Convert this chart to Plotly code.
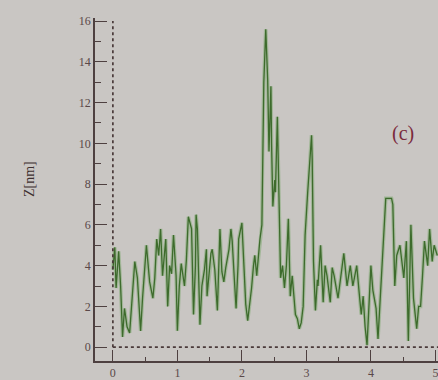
import plotly.graph_objects as go

# Profile position (x axis) and height Z [nm]
x_pos = [0.00, 0.03, 0.05, 0.09, 0.12, 0.15, 0.18, 0.22, 0.26, 0.29, 0.34, 0.38, 0.43, 0.46, 0.49,
         0.52, 0.57, 0.62, 0.65, 0.68, 0.71, 0.74, 0.77, 0.82, 0.85, 0.88, 0.91, 0.94, 0.98, 1.00,
         1.03, 1.06, 1.11, 1.14, 1.17, 1.22, 1.25, 1.28, 1.29, 1.31, 1.35, 1.38, 1.42, 1.45, 1.46,
         1.49, 1.52, 1.54, 1.58, 1.62, 1.65, 1.66, 1.69, 1.72, 1.75, 1.80, 1.83, 1.85, 1.88, 1.91,
         1.94, 1.95, 2.00, 2.03, 2.06, 2.09, 2.12, 2.15, 2.18, 2.20, 2.23, 2.26, 2.28, 2.31, 2.32,
         2.34, 2.37, 2.38, 2.40, 2.42, 2.45, 2.46, 2.48, 2.51, 2.52, 2.55, 2.57, 2.60, 2.63, 2.66,
         2.69, 2.72, 2.75, 2.78, 2.83, 2.86, 2.89, 2.92, 2.95, 2.98, 3.02, 3.05, 3.08, 3.09, 3.11,
         3.14, 3.17, 3.18, 3.22, 3.26, 3.29, 3.32, 3.37, 3.40, 3.43, 3.49, 3.54, 3.58, 3.63, 3.68,
         3.72, 3.75, 3.78, 3.82, 3.85, 3.88, 3.91, 3.94, 3.97, 4.00, 4.03, 4.08, 4.11, 4.14, 4.17,
         4.20, 4.23, 4.28, 4.32, 4.34, 4.37, 4.40, 4.45, 4.48, 4.51, 4.55, 4.58, 4.62, 4.66, 4.69,
         4.71, 4.74, 4.77, 4.80, 4.83, 4.88, 4.91, 4.95, 4.98, 5.03]
z_nm = [3.8, 4.9, 2.9, 4.7, 3.0, 0.5, 1.9, 1.0, 0.7, 2.0, 4.2, 3.4, 0.8, 2.4, 3.8,
        5.0, 3.2, 2.4, 3.4, 5.3, 4.5, 5.8, 3.5, 5.3, 2.0, 4.0, 3.6, 5.5, 3.5, 0.8,
        3.0, 4.1, 3.0, 4.3, 6.4, 5.8, 1.6, 4.0, 6.5, 5.8, 1.1, 3.0, 3.8, 4.8, 2.5,
        3.5, 4.6, 4.8, 3.8, 1.8, 4.5, 5.8, 3.7, 3.2, 3.9, 4.8, 5.8, 5.2, 3.5, 1.9,
        4.0, 5.3, 6.1, 4.0, 2.1, 1.3, 2.0, 2.9, 4.0, 4.5, 3.5, 4.6, 5.3, 6.0, 9.2,
        13.0, 15.6, 14.7, 13.1, 9.6, 12.8, 10.0, 6.9, 8.2, 7.6, 11.3, 8.7, 3.4, 4.0, 2.9,
        4.0, 6.3, 2.5, 3.5, 1.6, 1.4, 0.9, 1.2, 2.0, 5.5, 7.6, 9.0, 10.4, 9.2, 4.2,
        1.8, 3.3, 3.0, 5.0, 2.2, 4.0, 3.5, 2.2, 3.9, 3.5, 2.4, 3.8, 4.6, 3.0, 4.0,
        3.0, 3.6, 4.0, 2.6, 1.6, 2.5, 1.0, 0.1, 2.0, 4.0, 2.8, 1.9, 0.4, 2.0, 4.0,
        5.7, 7.3, 7.3, 7.3, 7.0, 3.0, 4.5, 5.0, 4.2, 3.4, 5.2, 0.3, 6.0, 2.4, 1.5,
        0.9, 2.0, 2.0, 3.5, 5.2, 4.0, 5.8, 4.2, 5.0, 4.5]

x_ticks = [0, 1, 2, 3, 4, 5]
y_ticks = [0, 2, 4, 6, 8, 10, 12, 14, 16]
panel_label = "(c)"
y_title = "Z[nm]"

bg = "#c9c6c3"
axis_col = "#4e4040"
font = dict(family="Liberation Serif, Times New Roman, serif", size=12, color="#5a4848")

fig = go.Figure()
fig.add_trace(go.Scatter(x=x_pos, y=z_nm, mode="lines",
                         line=dict(color="rgba(160,182,150,0.95)", width=3.6),
                         hoverinfo="skip", showlegend=False))
fig.add_trace(go.Scatter(x=x_pos, y=z_nm, mode="lines",
                         line=dict(color="#3d6b2c", width=1.3),
                         showlegend=False))

# dotted zero lines
fig.add_shape(type="line", xref="x", yref="y", x0=0, x1=0, y0=0, y1=16,
              line=dict(color="#4a3a3a", width=1.7, dash="dot"))
fig.add_shape(type="line", xref="x", yref="y", x0=0, x1=5.1, y0=0, y1=0,
              line=dict(color="#4a3a3a", width=1.7, dash="dot"))

fig.add_annotation(x=4.49, y=10.5, xref="x", yref="y", text=panel_label, showarrow=False,
                   font=dict(family="Liberation Serif, serif", size=20, color="#7a2a3c"))
fig.add_annotation(x=0, y=0.5, xref="paper", yref="paper", yshift=10, xshift=-75,
                   text=y_title, textangle=-90, showarrow=False,
                   font=dict(family="Liberation Serif, serif", size=14, color="#3e3030"))

fig.update_layout(
    width=438, height=380,
    margin=dict(l=95, r=0, t=18, b=17),
    paper_bgcolor=bg, plot_bgcolor=bg,
    font=font,
    xaxis=dict(range=[-0.277, 5.04], tickvals=x_ticks, ticks="inside", ticklen=11,
               tickcolor=axis_col, tickwidth=1.3, showline=True, linecolor=axis_col,
               linewidth=1.6, showgrid=False, zeroline=False, mirror=False,
               ticklabeloverflow="allow",
               minor=dict(dtick=0.5, tick0=0, ticks="inside", ticklen=4, tickcolor=axis_col),
               tickfont=font),
    yaxis=dict(range=[-0.68, 16.15], tickvals=y_ticks, ticks="inside", ticklen=12,
               tickcolor=axis_col, tickwidth=1.3, showline=True, linecolor=axis_col,
               linewidth=1.6, showgrid=False, zeroline=False, mirror=False,
               minor=dict(dtick=1, tick0=0, ticks="inside", ticklen=6, tickcolor=axis_col),
               tickfont=font),
)

fig.write_html("out.html")
